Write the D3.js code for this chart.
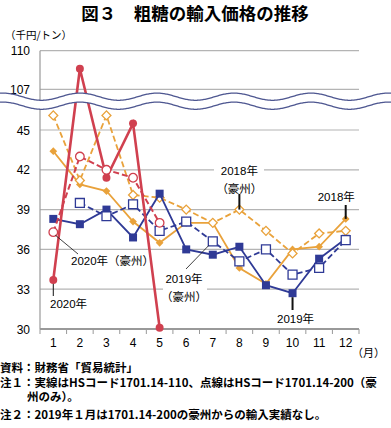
<!DOCTYPE html>
<html>
<head>
<meta charset="utf-8">
<script src="https://cdn.jsdelivr.net/npm/d3@7"></script>
<style>
  body { margin: 0; background: #fff; }
  svg { display: block; font-family: "Liberation Sans", "Noto Sans CJK JP", sans-serif; }
  .jp { font-family: "Noto Sans CJK JP", sans-serif; }
</style>
</head>
<body>
<script>
// x categories (month)
var months = [1, 2, 3, 4, 5, 6, 7, 8, 9, 10, 11, 12];
// y ticks below and above the axis break
var ticksLow = [30, 33, 36, 39, 42, 45];
var ticksHigh = [107, 110];

// 千円/トン : solid = HS1701.14-110, dashed = HS1701.14-200 (豪州)
var v2018   = [43.4, 40.9, 40.4, 38.1, 36.5, 38.0, 38.0, 34.6, 33.4, 36.0, 36.2, 38.3];
var v2018au = [46.1, 41.2, 46.1, 40.1, 39.9, 39.0, 38.0, 39.0, 37.4, 35.7, 37.2, 37.4];
var v2019   = [38.3, 37.9, 39.0, 36.9, 40.2, 36.0, 35.6, 36.2, 33.3, 32.7, 35.3, 36.8];
var v2019au = [null, 39.5, 38.5, 39.4, 37.4, 38.1, 36.6, 35.1, 36.0, 34.1, 34.6, 36.7];
var v2020   = [33.7, 108.6, 41.4, 45.5, 30.1];
var v2020au = [37.3, 43.0, 42.0, 41.4, 38.0];

// each inner list is one note, wrapped lines
var notes = [
  ["資料：財務省「貿易統計」"],
  ["注１：実線はHSコード1701.14-110、点線はHSコード1701.14-200（豪", "州のみ）。"],
  ["注２：2019年１月は1701.14-200の豪州からの輸入実績なし。"]
];

var width = 391, height = 428;
var ORANGE = "#e9a23b", BLUE = "#2f3a96", RED = "#d0404f", GRID = "#b4b4b4";

var svg = d3.select("body").append("svg")
  .attr("width", width)
  .attr("height", height);

var x = d3.scaleBand().domain(months).range([40, 359]);
var cx = function (i) { return x(months[i]) + x.bandwidth() / 2; };

// broken y axis: two linear pieces
var yLow = d3.scaleLinear().domain([30, 45]).range([329, 130]);
var yHigh = d3.scaleLinear().domain([107, 110]).range([89.3, 50.7]);
var y = function (v) { return v > 80 ? yHigh(v) : yLow(v); };

// title
svg.append("text")
  .attr("class", "jp")
  .attr("x", 195).attr("y", 20)
  .attr("text-anchor", "middle")
  .style("font-size", "17.5px")
  .style("font-weight", "bold")
  .text("図３　粗糖の輸入価格の推移");

svg.append("text")
  .attr("class", "jp")
  .attr("x", 5).attr("y", 39)
  .style("font-size", "10.5px")
  .text("（千円/トン）");

/*
  grid lines + y labels
*/
var allTicks = ticksLow.concat(ticksHigh);
svg.selectAll(".grid")
  .data(allTicks.filter(function (d) { return d !== 30; }))
  .enter().append("line")
    .attr("x1", 40).attr("x2", 359)
    .attr("y1", y).attr("y2", y)
    .style("stroke", GRID)
    .style("stroke-width", 1.2);

svg.selectAll(".ylab")
  .data(allTicks)
  .enter().append("text")
    .attr("x", 30)
    .attr("y", function (d) { return y(d) + 4.5; })
    .attr("text-anchor", "end")
    .style("font-size", "12px")
    .text(function (d) { return d; });

// x axis with ticks between months
var xAxis = d3.axisBottom(x).tickSize(0).tickPadding(9);
var gx = svg.append("g").attr("transform", "translate(0,329)").call(xAxis);
gx.select(".domain").remove();
gx.selectAll("text").style("font-size", "12px").style("font-family", null);
svg.selectAll(".xtick")
  .data(d3.range(months.length + 1))
  .enter().append("line")
    .attr("x1", function (k) { return 40 + k * x.step(); })
    .attr("x2", function (k) { return 40 + k * x.step(); })
    .attr("y1", 329).attr("y2", 334)
    .style("stroke", "#999");
svg.append("line")
  .attr("x1", 40).attr("x2", 359).attr("y1", 329).attr("y2", 329)
  .style("stroke", "#999").style("stroke-width", 2);
svg.append("line")
  .attr("x1", 40).attr("x2", 40).attr("y1", y(110)).attr("y2", 329)
  .style("stroke", "#999").style("stroke-width", 1.2);

svg.append("text")
  .attr("class", "jp")
  .attr("x", 352).attr("y", 357)
  .style("font-size", "11px")
  .text("（月）");

/*
  white boxes behind two labels that cut the grid
*/
svg.append("rect").attr("x", 214).attr("y", 162).attr("width", 50).attr("height", 32).style("fill", "#fff");
svg.append("rect").attr("x", 163).attr("y", 271).attr("width", 44).attr("height", 32).style("fill", "#fff");

/*
  series
*/
var series = [
  { vals: v2018,   color: ORANGE, dash: null,  shape: d3.symbolSquare, size: 30, rot: 45, fill: true,  w: 1.8 },
  { vals: v2018au, color: ORANGE, dash: "6,3", shape: d3.symbolSquare, size: 40, rot: 45, fill: false, w: 1.8 },
  { vals: v2019,   color: BLUE,   dash: null,  shape: d3.symbolSquare, size: 64, rot: 0,  fill: true,  w: 1.8 },
  { vals: v2019au, color: BLUE,   dash: "6,3", shape: d3.symbolSquare, size: 80, rot: 0,  fill: false, w: 1.8 },
  { vals: v2020,   color: RED,    dash: null,  shape: d3.symbolCircle, size: 50, rot: 0,  fill: true,  w: 2.6 },
  { vals: v2020au, color: RED,    dash: "6,3", shape: d3.symbolCircle, size: 58, rot: 0,  fill: false, w: 2 }
];

var line = d3.line()
  .defined(function (d) { return d != null; })
  .x(function (d, i) { return cx(i); })
  .y(function (d) { return y(d); });

series.forEach(function (s) {
  svg.append("path")
    .datum(s.vals)
    .attr("d", line)
    .style("fill", "none")
    .style("stroke", s.color)
    .style("stroke-width", s.w)
    .style("stroke-dasharray", s.dash);

  svg.selectAll(null)
    .data(s.vals.map(function (v, i) { return { v: v, i: i }; }).filter(function (d) { return d.v != null; }))
    .enter().append("path")
      .attr("d", d3.symbol().type(s.shape).size(s.size))
      .attr("transform", function (d) {
        return "translate(" + cx(d.i) + "," + y(d.v) + ") rotate(" + s.rot + ")";
      })
      .style("fill", s.fill ? s.color : "#fff")
      .style("stroke", s.color)
      .style("stroke-width", s.fill ? 0 : 1.3);
});

/*
  axis break (wavy band)
*/
var wx = d3.range(0, width + 1, 1);
var wTop = function (px) { return 96.7 - 3.6 * Math.cos(2 * Math.PI * (px - 3) / 77); };
var band = wx.map(function (px) { return [px, wTop(px)]; })
  .concat(wx.slice().reverse().map(function (px) { return [px, wTop(px) + 9]; }));
svg.append("path")
  .attr("d", d3.line()(band) + "Z")
  .style("fill", "#fff");
[0, 9].forEach(function (off) {
  svg.append("path")
    .attr("d", d3.line()(wx.map(function (px) { return [px, wTop(px) + off]; })))
    .style("fill", "none")
    .style("stroke", "#4d5690")
    .style("stroke-width", 1.3);
});

/*
  annotations
*/
function label(lines, xx, yy, anchor) {
  lines.forEach(function (t, k) {
    svg.append("text")
      .attr("x", xx).attr("y", yy + k * 17.5)
      .attr("text-anchor", anchor)
      .style("font-size", "11.5px")
      .text(t);
  });
}
function leader(x1, y1, x2, y2, w) {
  svg.append("line")
    .attr("x1", x1).attr("y1", y1).attr("x2", x2).attr("y2", y2)
    .style("stroke", "#111").style("stroke-width", w);
}

label(["2018年"], cx(11) - 28, 201, "start");
leader(cx(11), 205, cx(11), y(v2018[11]), 2);

label(["2018年", "（豪州）"], cx(7), 175, "middle");
leader(cx(7), 194, cx(7), y(v2018au[7]), 2);

label(["2020年（豪州）"], 71, 265, "start");
leader(cx(0) + 2, y(v2020au[0]) + 3, 78, 254, 0.8);

label(["2020年"], 50, 308, "start");
leader(cx(0), y(v2020[0]) + 4, cx(0), 296, 1);

label(["2019年", "（豪州）"], 184, 283, "middle");
leader(186, 269, cx(6) - 4, y(v2019au[6]) + 4, 0.8);

label(["2019年"], 277, 323, "start");
leader(cx(9), y(v2019[9]) + 4, cx(9), 310, 2);

/*
  notes (a wrapped note is one text with tspans)
*/
var noteY = [372, 386.5, 419];
var nt = svg.selectAll(".note")
  .data(notes)
  .enter().append("text")
    .attr("class", "jp")
    .attr("y", function (d, i) { return noteY[i]; })
    .style("font-size", "11.5px")
    .style("font-weight", "bold");
nt.selectAll("tspan")
  .data(function (d) { return d; })
  .enter().append("tspan")
    .attr("x", function (d, k) { return k === 0 ? 0 : 27; })
    .attr("dy", function (d, k) { return k === 0 ? 0 : 14.5; })
    .text(function (d) { return d; });
</script>
</body>
</html>
